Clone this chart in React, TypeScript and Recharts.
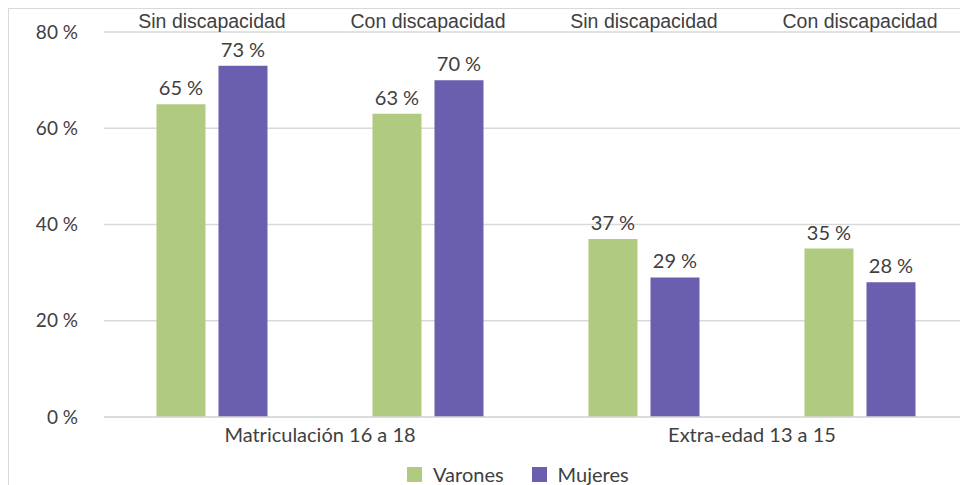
import { Bar, BarChart, CartesianGrid, LabelList, Legend, XAxis, YAxis } from "recharts";

const subgroups = ["Sin discapacidad", "Con discapacidad", "Sin discapacidad", "Con discapacidad"];
const groups = ["Matriculación 16 a 18", "Matriculación 16 a 18", "Extra-edad 13 a 15", "Extra-edad 13 a 15"];
const varones = [65, 63, 37, 35];
const mujeres = [73, 70, 29, 28];
const yTicks = [0, 20, 40, 60, 80];

const data = subgroups.map((s, i) => ({ key: `c${i}`, sub: s, group: groups[i], varones: varones[i], mujeres: mujeres[i] }));

const W = 960;
const H = 476;
const Y_W = 95;
const M_RIGHT = 1;
const BAND = (W - Y_W - M_RIGHT) / subgroups.length;

const GREEN = "#b0cb7f";
const PURPLE = "#6a5eae";
const TEXT = "#404040";
const CALIBRI = "Lato, 'Open Sans', sans-serif";

function TopTick(props: any) {
  const { x, y, index } = props;
  return (
    <text x={x} y={y} dy={4} textAnchor="middle" fill={TEXT} fontSize={19.5} fontFamily="'Liberation Sans', Arial, sans-serif">
      {subgroups[index]}
    </text>
  );
}

function GroupTick(props: any) {
  const { x, y, index } = props;
  if (index % 2 !== 0) return null;
  return (
    <text x={x + BAND / 2} y={y} dy={17} textAnchor="middle" fill={TEXT} fontSize={20} fontFamily={CALIBRI}>
      {groups[index]}
    </text>
  );
}

function LegendBox() {
  const items = [
    { name: "Varones", color: GREEN },
    { name: "Mujeres", color: PURPLE },
  ];
  return (
    <div style={{ display: "flex", paddingLeft: 398, paddingTop: 20, gap: 28, fontFamily: CALIBRI, fontSize: 20, color: TEXT }}>
      {items.map((it) => (
        <div key={it.name} style={{ display: "flex", alignItems: "center", gap: 11 }}>
          <span style={{ width: 15, height: 15, background: it.color, display: "inline-block" }} />
          <span style={{ lineHeight: "15px" }}>{it.name}</span>
        </div>
      ))}
    </div>
  );
}

export default function App() {
  return (
    <div
      style={{
        position: "absolute",
        left: 8,
        top: 8,
        width: 952,
        height: 477,
        overflow: "hidden",
        borderTop: "1px solid #d9d9d9",
        borderLeft: "1px solid #d9d9d9",
        boxSizing: "border-box",
        background: "#fff",
      }}
    >
      <BarChart
        width={W}
        height={H}
        data={data}
        margin={{ top: 0, right: M_RIGHT, bottom: 0, left: 0 }}
        barCategoryGap="24.3%"
        barGap={13}
      >
        <CartesianGrid vertical={false} stroke="#d9d9d9" strokeWidth={1.5} />
        <XAxis xAxisId="top" orientation="top" dataKey="key" height={23} axisLine={false} tickLine={false} tick={<TopTick />} interval={0} />
        <XAxis dataKey="key" height={30} axisLine={{ stroke: "#d9d9d9", strokeWidth: 1.5 }} tickLine={false} tick={<GroupTick />} interval={0} />
        <YAxis
          width={Y_W}
          domain={[0, 80]}
          ticks={yTicks}
          axisLine={false}
          tickLine={false}
          tickSize={0}
          tickMargin={26}
          tick={{ fill: TEXT, fontSize: 19, fontFamily: CALIBRI }}
          tickFormatter={(v) => `${v} %`}
        />
        <Legend verticalAlign="bottom" height={38} content={() => <LegendBox />} />
        <Bar dataKey="varones" name="Varones" fill={GREEN} isAnimationActive={false}>
          <LabelList dataKey="varones" position="top" offset={9} formatter={(v: any) => `${v} %`} fill={TEXT} fontSize={20} fontFamily={CALIBRI} />
        </Bar>
        <Bar dataKey="mujeres" name="Mujeres" fill={PURPLE} isAnimationActive={false}>
          <LabelList dataKey="mujeres" position="top" offset={9} formatter={(v: any) => `${v} %`} fill={TEXT} fontSize={20} fontFamily={CALIBRI} />
        </Bar>
      </BarChart>
    </div>
  );
}
